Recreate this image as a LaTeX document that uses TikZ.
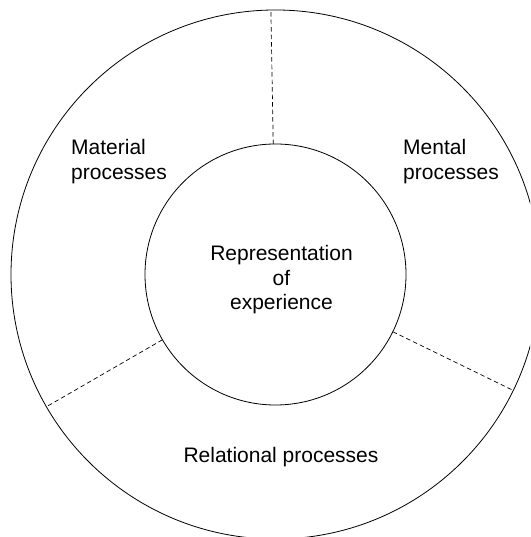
\documentclass[tikz,border=0pt]{standalone}
\usepackage{fontspec}
\setmainfont{Liberation Sans}

\tikzset{
	ring/.style={draw, circle, line width=0.8pt, inner sep=0pt, outer sep=0pt},
	divider/.style={line width=0.7pt, dash pattern=on 4.5pt off 3pt},
	label/.style={inner sep=0pt, font=\fontsize{21}{24.5}\selectfont}
}

\begin{document}
\begin{tikzpicture}[x=1pt, y=1pt]
	\clip (0,0) rectangle (530,537);
	\coordinate (c) at (275.5,262.5);
	\node[ring, minimum size=529pt] (outer) at (c) {};
	\node[ring, minimum size=261pt] (inner) at (c) {};
	\draw[divider] (inner.91) -- (outer.91);
	\draw[divider] (inner.-26.5) -- (outer.-26.5);
	\draw[divider] (inner.210.3) -- (outer.210.3);
	% base anchor sits on the last line
	\node[label, anchor=base west, align=left] (material) at (71,357.7) {Material\\processes};
	\node[label, anchor=base west, align=left] (mental) at (403,357.7) {Mental\\processes};
	\node[label, anchor=base, align=center] (centre) at (281.5,227) {Representation\\of\\experience};
	\node[label, anchor=base] (relational) at (281,74.5) {Relational processes};
\end{tikzpicture}
\end{document}
